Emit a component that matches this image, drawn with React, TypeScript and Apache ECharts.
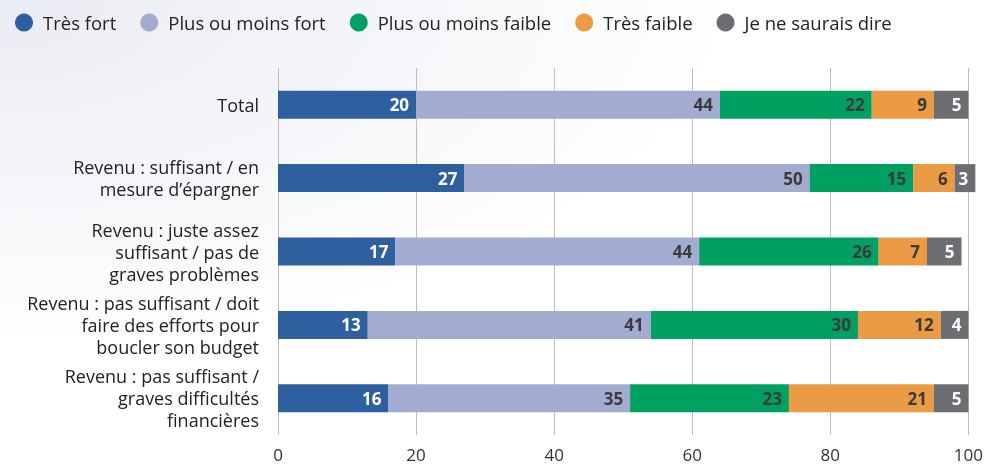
import React, { useEffect, useRef } from "react";
import * as echarts from "echarts";

const categories = [
  "Total",
  "Revenu : suffisant / en\nmesure d’épargner",
  "Revenu : juste assez\nsuffisant / pas de\ngraves problèmes",
  "Revenu : pas suffisant / doit\nfaire des efforts pour\nboucler son budget",
  "Revenu : pas suffisant /\ngraves difficultés\nfinancières",
];
const seriesNames = ["Très fort", "Plus ou moins fort", "Plus ou moins faible", "Très faible", "Je ne saurais dire"];
const tresFort = [20, 27, 17, 13, 16];
const plusOuMoinsFort = [44, 50, 44, 41, 35];
const plusOuMoinsFaible = [22, 15, 26, 30, 23];
const tresFaible = [9, 6, 7, 12, 21];
const neSaitPas = [5, 3, 5, 4, 5];
const xTicks = [0, 20, 40, 60, 80, 100];

const colors = ["#2e5f9f", "#a2acd0", "#00a062", "#eb9b43", "#6d6e72"];
const labelColors = ["#ffffff", "#3a3a3a", "#3a3a3a", "#3a3a3a", "#ffffff"];

export default function App() {
  const ref = useRef<HTMLDivElement>(null);
  useEffect(() => {
    if (!ref.current) return;
    const chart = echarts.init(ref.current, null, { renderer: "svg" });
    const data = [tresFort, plusOuMoinsFort, plusOuMoinsFaible, tresFaible, neSaitPas];
    chart.setOption({
      animation: false,
      backgroundColor: new echarts.graphic.RadialGradient(0, 0, 0.75, [
        { offset: 0, color: "#eaecf3" },
        { offset: 1, color: "#ffffff" },
      ]),
      textStyle: { fontFamily: "'Open Sans', 'Noto Sans', sans-serif" },
      legend: {
        left: 10,
        top: 8,
        icon: "circle",
        itemWidth: 18,
        itemHeight: 18,
        itemGap: 24,
        itemStyle: { borderWidth: 0 },
        textStyle: { fontSize: 18.5, color: "#222", padding: [0, 0, 0, 5] },
        data: seriesNames,
      },
      grid: { left: 278, right: 17, top: 68, bottom: 30, containLabel: false },
      xAxis: {
        type: "value",
        min: 0,
        max: 100,
        interval: 20,
        axisLine: { show: false },
        axisTick: { show: false },
        splitLine: { show: true, lineStyle: { color: "#bdbdbd", width: 1 } },
        axisLabel: {
          fontSize: 17,
          color: "#333",
          margin: 11,
          formatter: (v: number) => (xTicks.includes(v) ? String(v) : ""),
        },
      },
      yAxis: {
        type: "category",
        inverse: true,
        data: categories,
        axisLine: { show: false },
        axisTick: { show: false },
        axisLabel: { fontSize: 18, color: "#222", lineHeight: 22, margin: 19, align: "right" },
      },
      series: seriesNames.map((name, i) => ({
        name,
        type: "bar",
        stack: "total",
        clip: false,
        barWidth: 28,
        data: data[i],
        itemStyle: { color: colors[i] },
        label: {
          show: true,
          position: "insideRight",
          distance: 7,
          fontSize: 17,
          fontWeight: "bold",
          color: labelColors[i],
        },
      })),
    });
    return () => chart.dispose();
  }, []);
  return (
    <div
      ref={ref}
      style={{ position: "fixed", left: 0, top: 0, width: 986, height: 465 }}
    />
  );
}
